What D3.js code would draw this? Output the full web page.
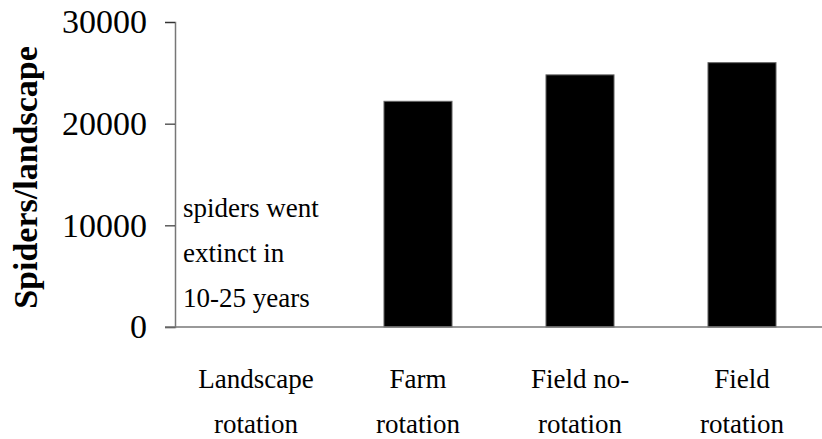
<!DOCTYPE html>
<html>
<head>
<meta charset="utf-8">
<script src="https://cdn.jsdelivr.net/npm/d3@7"></script>
<style>
  body { margin: 0; background: #fff; }
  svg text { font-family: "Liberation Serif", "Times New Roman", serif; fill: #000; }
</style>
</head>
<body>
<div class="chart"></div>
<script>
// data
var categories = [["Landscape", "rotation"], ["Farm", "rotation"], ["Field no-", "rotation"], ["Field", "rotation"]];
var spiders = [0, 22200, 24800, 26000];
var yTicks = [0, 10000, 20000, 30000];
var note = ["spiders went", "extinct in", "10-25 years"];

var serif = "Liberation Serif";
var svgWidth = 822, svgHeight = 439;
var margin = { top: 22, right: -1, bottom: 112, left: 175 };
var width = svgWidth - margin.left - margin.right;
var height = svgHeight - margin.top - margin.bottom;

var svg = d3.select(".chart").append("svg")
  .attr("width", svgWidth)
  .attr("height", svgHeight);

var chart = svg.append("g")
  .attr("transform", "translate(" + margin.left + "," + margin.top + ")");

var x = d3.scaleBand()
  .domain(d3.range(categories.length))
  .range([0, width])
  .paddingInner(0.58)
  .paddingOuter(0.29);

var y = d3.scaleLinear()
  .domain([0, 30000])
  .range([height, 0]);

// bars
chart.selectAll("rect.bar")
  .data(spiders)
  .enter().append("rect")
  .attr("class", "bar")
  .attr("x", function(d, i) { return x(i); })
  .attr("y", function(d) { return y(d); })
  .attr("width", x.bandwidth())
  .attr("height", function(d) { return height - y(d); })
  .attr("fill", "#000")
  .attr("stroke", "#666")
  .attr("stroke-width", function(d) { return d > 0 ? 1 : 0; });

// y axis
var leftAxis = d3.axisLeft(y).tickValues(yTicks).tickSize(10).tickPadding(18).tickFormat(d3.format("d"));
var yAxis = chart.append("g").call(leftAxis).attr("font-family", serif);
yAxis.select(".domain").attr("stroke", "#777").attr("stroke-width", 1.5);
yAxis.selectAll(".tick line").attr("stroke", "#333").attr("stroke-width", 1.2);
yAxis.selectAll(".tick text")
  .attr("font-size", 34)
  .style("font-family", serif);

// x axis line
chart.append("line")
  .attr("x1", -10).attr("x2", width)
  .attr("y1", height).attr("y2", height)
  .attr("stroke", "#777").attr("stroke-width", 1.5);

// category labels, one text per line
var catG = chart.append("g").attr("font-family", serif);
categories.forEach(function(lines, i) {
  lines.forEach(function(line, j) {
    catG.append("text")
      .attr("x", x(i) + x.bandwidth() / 2)
      .attr("y", height + 61 + j * 44.5)
      .attr("text-anchor", "middle")
      .attr("font-size", 27)
      .style("font-family", serif)
      .text(line);
  });
});

// note where the first bar would be
chart.append("g").selectAll("text")
  .data(note)
  .enter().append("text")
  .attr("x", 8)
  .attr("y", function(d, i) { return 195 + i * 45; })
  .attr("font-size", 27)
  .style("font-family", serif)
  .text(function(d) { return d; });

// y axis title
svg.append("text")
  .attr("transform", "translate(37," + (margin.top + height / 2 + 3) + ") rotate(-90)")
  .attr("text-anchor", "middle")
  .style("font-family", serif)
  .attr("font-size", 34)
  .attr("font-weight", "bold")
  .text("Spiders/landscape");
</script>
</body>
</html>
